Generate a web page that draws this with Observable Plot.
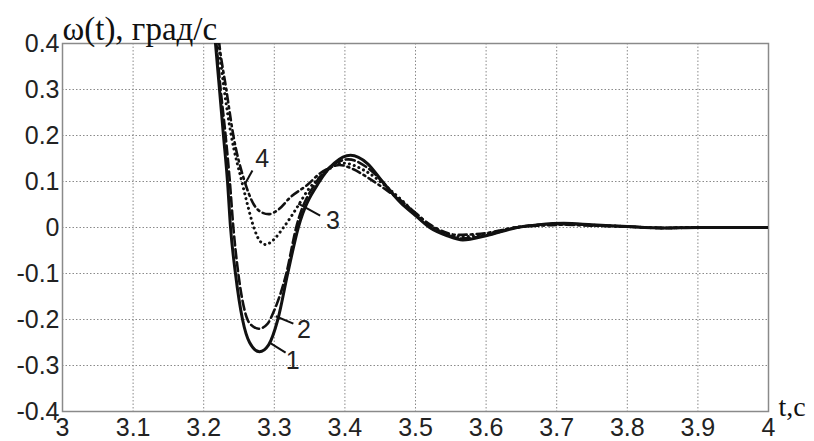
<!DOCTYPE html>
<html>
<head>
<meta charset="utf-8">
<script src="https://cdn.jsdelivr.net/npm/d3@7"></script>
<script src="https://cdn.jsdelivr.net/npm/@observablehq/plot@0.6"></script>
<style>
  html, body { margin: 0; padding: 0; background: #fff; }
</style>
</head>
<body>
<div id="chart"></div>
<script>
// Time axis values (s) and omega values (deg/s) per curve
const t1 = [3.205, 3.2167, 3.2224, 3.228, 3.2337, 3.238, 3.245, 3.255, 3.265, 3.279, 3.292, 3.305, 3.319, 3.334, 3.364, 3.385, 3.408, 3.432, 3.453, 3.479, 3.500, 3.520, 3.545, 3.567, 3.600, 3.644, 3.675, 3.710, 3.750, 3.800, 3.850, 3.900, 4.000];
const y1 = [0.60, 0.40, 0.30, 0.20, 0.10, 0.00, -0.10, -0.20, -0.25, -0.27, -0.255, -0.20, -0.10, 0.00, 0.10, 0.140, 0.157, 0.139, 0.10, 0.054, 0.026, 0.000, -0.018, -0.027, -0.018, 0.000, 0.006, 0.009, 0.006, 0.002, -0.001, 0.000, 0.000];

const t2 = [3.206, 3.218, 3.224, 3.231, 3.237, 3.242, 3.249, 3.262, 3.270, 3.278, 3.290, 3.300, 3.317, 3.331, 3.360, 3.382, 3.405, 3.430, 3.453, 3.479, 3.500, 3.520, 3.545, 3.565, 3.600, 3.642, 3.675, 3.710, 3.750, 3.800, 3.850, 3.900, 4.000];
const y2 = [0.60, 0.40, 0.30, 0.20, 0.10, 0.00, -0.10, -0.20, -0.215, -0.22, -0.21, -0.18, -0.10, 0.00, 0.10, 0.135, 0.148, 0.132, 0.10, 0.055, 0.027, 0.001, -0.016, -0.024, -0.017, 0.000, 0.006, 0.008, 0.005, 0.002, -0.001, 0.000, 0.000];

const t3 = [3.209, 3.221, 3.229, 3.239, 3.254, 3.262, 3.271, 3.280, 3.288, 3.298, 3.313, 3.334, 3.347, 3.365, 3.397, 3.430, 3.460, 3.480, 3.500, 3.522, 3.565, 3.600, 3.642, 3.675, 3.710, 3.750, 3.800, 3.850, 3.900, 4.000];
const y3 = [0.60, 0.40, 0.30, 0.20, 0.10, 0.05, 0.00, -0.030, -0.037, -0.028, 0.000, 0.048, 0.080, 0.110, 0.140, 0.122, 0.087, 0.060, 0.031, 0.003, -0.020, -0.014, 0.000, 0.005, 0.007, 0.005, 0.002, -0.001, 0.000, 0.000];

const t4 = [3.210, 3.222, 3.232, 3.242, 3.258, 3.271, 3.282, 3.292, 3.305, 3.323, 3.347, 3.365, 3.384, 3.392, 3.410, 3.432, 3.460, 3.479, 3.493, 3.522, 3.560, 3.600, 3.642, 3.675, 3.710, 3.750, 3.800, 3.850, 3.900, 4.000];
const y4 = [0.60, 0.40, 0.30, 0.20, 0.10, 0.05, 0.033, 0.029, 0.038, 0.066, 0.093, 0.118, 0.133, 0.136, 0.128, 0.109, 0.080, 0.059, 0.041, 0.005, -0.016, -0.012, 0.000, 0.004, 0.006, 0.004, 0.002, -0.001, 0.000, 0.000];

const seriesNames = ["1", "2", "3", "4"];

// Tick values
const xTicks = [3, 3.1, 3.2, 3.3, 3.4, 3.5, 3.6, 3.7, 3.8, 3.9, 4];
const yTicks = [-0.4, -0.3, -0.2, -0.1, 0, 0.1, 0.2, 0.3, 0.4];

// Curve labels: contact point on curve, leader end, text position (data units)
const labelText = ["1", "2", "3", "4"];
const labelT0 = [3.295, 3.302, 3.334, 3.259];
const labelY0 = [-0.252, -0.193, 0.052, 0.096];
const labelT1 = [3.316, 3.327, 3.365, 3.269];
const labelY1 = [-0.272, -0.209, 0.026, 0.124];
const labelTT = [3.326, 3.342, 3.383, 3.283];
const labelTY = [-0.290, -0.222, 0.014, 0.150];

const titleText = "ω(t), град/с";
const xLabelText = "t,c";

// Build tables
const mk = (ts, ys, s) => ts.map((t, i) => ({t, y: ys[i], s}));
const d1 = mk(t1, y1, "1"), d2 = mk(t2, y2, "2"), d3 = mk(t3, y3, "3"), d4 = mk(t4, y4, "4");
const labels = labelText.map((l, i) => ({l, t0: labelT0[i], y0: labelY0[i], t1: labelT1[i], y1: labelY1[i], tt: labelTT[i], ty: labelTY[i]}));

const fmtY = d => d === 0 ? "0" : d.toFixed(1);
const fmtX = d => Number.isInteger(d) ? String(d) : d.toFixed(1);

const sansFont = "'Liberation Sans', Arial, sans-serif";
const serifFont = "'Liberation Serif', 'Times New Roman', serif";

const chart = Plot.plot({
  width: 814,
  height: 441,
  marginLeft: 62,
  marginRight: 46,
  marginTop: 43,
  marginBottom: 30,
  style: {background: "#fff", overflow: "visible"},
  x: {domain: [3, 4], ticks: xTicks, tickFormat: fmtX},
  y: {domain: [-0.4, 0.4], ticks: yTicks, tickFormat: fmtY},
  marks: [
    Plot.gridX(xTicks, {stroke: "#8a8a8a", strokeOpacity: 1, strokeDasharray: "1.5,2", strokeWidth: 1}),
    Plot.gridY(yTicks, {stroke: "#8a8a8a", strokeOpacity: 1, strokeDasharray: "1.5,2", strokeWidth: 1}),
    Plot.frame({stroke: "#8a8a8a", strokeWidth: 1.5}),
    Plot.axisX(xTicks, {tickSize: 0, tickPadding: 7, fontSize: 25, fontFamily: sansFont, fill: "#222", tickFormat: fmtX, label: null}),
    Plot.axisY(yTicks, {tickSize: 0, tickPadding: 3, fontSize: 25, fontFamily: sansFont, fill: "#222", tickFormat: fmtY, label: null}),
    Plot.line(d4, {x: "t", y: "y", stroke: "#111", strokeWidth: 2.6, strokeDasharray: "8,4,2,4", curve: "monotone-x", clip: true}),
    Plot.line(d3, {x: "t", y: "y", stroke: "#111", strokeWidth: 3, strokeDasharray: "0.1,5", strokeLinecap: "round", curve: "monotone-x", clip: true}),
    Plot.line(d2, {x: "t", y: "y", stroke: "#111", strokeWidth: 2.6, strokeDasharray: "9,4", curve: "monotone-x", clip: true}),
    Plot.line(d1, {x: "t", y: "y", stroke: "#111", strokeWidth: 3, curve: "monotone-x", clip: true}),
    Plot.link(labels, {x1: "t0", y1: "y0", x2: "t1", y2: "y1", stroke: "#111", strokeWidth: 2}),
    Plot.text(labels, {x: "tt", y: "ty", text: "l", fontSize: 25, fontFamily: sansFont, fill: "#222"}),
    Plot.text([titleText], {frameAnchor: "top-left", text: d => d, textAnchor: "start", lineAnchor: "bottom", dx: 0, dy: -4, fontSize: 33, fontFamily: serifFont, fill: "#111"}),
    Plot.text([xLabelText], {frameAnchor: "bottom-right", text: d => d, textAnchor: "start", lineAnchor: "bottom", dx: 10, dy: 4, fontSize: 28, fontFamily: serifFont, fill: "#111"})
  ]
});
document.getElementById("chart").appendChild(chart);
</script>
</body>
</html>
